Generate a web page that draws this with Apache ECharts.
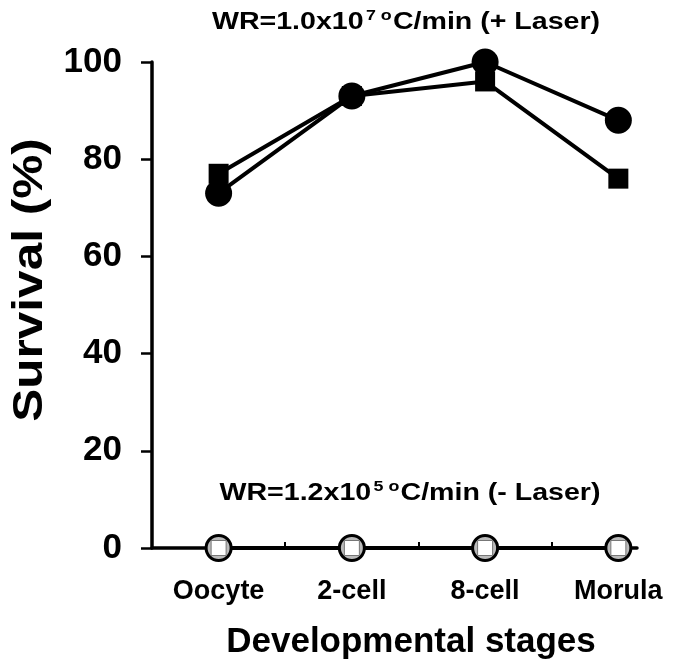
<!DOCTYPE html>
<html>
<head>
<meta charset="utf-8">
<script src="https://cdn.jsdelivr.net/npm/echarts@6/dist/echarts.min.js"></script>
<style>
  html, body { margin: 0; padding: 0; background: #fff; }
  #chart { width: 675px; height: 670px; }
</style>
</head>
<body>
<div id="chart"></div>
<script>
// 数据
const stages = ['Oocyte', '2-cell', '8-cell', 'Morula'];
const stagePos = [1, 2, 3, 4];
const laserCircle = [73, 93, 100, 88];
const laserSquare = [77, 93, 96, 76];
const noLaserCircle = [0, 0, 0, 0];
const noLaserSquare = [0, 0, 0, 0];

const FONT = 'Liberation Sans, Arial, sans-serif';

function pts(vals) {
    return vals.map((v, i) => [stagePos[i], v]);
}

const chart = echarts.init(document.getElementById('chart'));

// 上标文字样式
const richWR = {
    b: { fontFamily: FONT, fontWeight: 'bold', fontSize: 24, color: '#000' },
    s: { fontFamily: FONT, fontWeight: 'bold', fontSize: 15, color: '#000', verticalAlign: 'top', padding: [0, 1, 12, 2] }
};

chart.setOption({
    animation: false,
    backgroundColor: '#fff',
    grid: { left: 152, right: 38, top: 62, bottom: 122 },
    xAxis: {
        type: 'value',
        min: 0.5,
        max: 4.14,
        splitLine: { show: false },
        axisLine: { lineStyle: { color: '#000', width: 3.5 } },
        axisTick: {
            show: true,
            customValues: [1.5, 2.5, 3.5],
            inside: true,
            length: 6,
            lineStyle: { color: '#000', width: 2 }
        },
        axisLabel: {
            customValues: stagePos,
            formatter: v => stages[stagePos.indexOf(v)] || '',
            color: '#000',
            fontFamily: FONT,
            fontWeight: 'bold',
            fontSize: 27,
            margin: 30
        }
    },
    yAxis: {
        type: 'value',
        min: 0,
        max: 100,
        interval: 20,
        splitLine: { show: false },
        axisLine: { lineStyle: { color: '#000', width: 3.5 } },
        axisTick: { show: true, length: 11, lineStyle: { color: '#000', width: 2.5 } },
        axisLabel: {
            color: '#000',
            fontFamily: FONT,
            fontWeight: 'bold',
            fontSize: 35,
            margin: 30
        }
    },
    graphic: [
        {
            type: 'text',
            rotation: Math.PI / 2,
            x: 30, y: 280,
            scaleX: 1.18,
            style: {
                text: 'Survival (%)',
                fontFamily: FONT, fontWeight: 'bold', fontSize: 42,
                fill: '#000', align: 'center', verticalAlign: 'middle'
            }
        },
        {
            type: 'text',
            x: 411, y: 642,
            style: {
                text: 'Developmental stages',
                fontFamily: FONT, fontWeight: 'bold', fontSize: 35,
                fill: '#000', align: 'center', verticalAlign: 'middle'
            }
        },
        {
            type: 'text',
            x: 406, y: 22,
            scaleX: 1.19,
            style: {
                text: '{b|WR=1.0x10}{s|7 o}{b|C/min (+ Laser)}',
                align: 'center', verticalAlign: 'middle',
                rich: richWR
            }
        },
        {
            type: 'text',
            x: 410, y: 493,
            scaleX: 1.19,
            style: {
                text: '{b|WR=1.2x10}{s|5 o}{b|C/min (- Laser)}',
                align: 'center', verticalAlign: 'middle',
                rich: richWR
            }
        }
    ],
    series: [
        {
            name: '+Laser square',
            type: 'line',
            data: pts(laserSquare),
            clip: false,
            symbol: 'rect',
            symbolSize: 20,
            lineStyle: { color: '#000', width: 4 },
            itemStyle: { color: '#000' },
            z: 3
        },
        {
            name: '+Laser circle',
            type: 'line',
            data: pts(laserCircle),
            clip: false,
            symbol: 'circle',
            symbolSize: 27,
            lineStyle: { color: '#000', width: 4 },
            itemStyle: { color: '#000' },
            z: 4
        },
        {
            name: '-Laser circle',
            type: 'line',
            data: pts(noLaserCircle),
            clip: false,
            symbol: 'circle',
            symbolSize: 25,
            lineStyle: { color: '#000', width: 4 },
            itemStyle: { color: '#bbb', borderColor: '#000', borderWidth: 3 },
            z: 5
        },
        {
            name: '-Laser square',
            type: 'line',
            data: pts(noLaserSquare),
            clip: false,
            symbol: 'rect',
            symbolSize: 15,
            lineStyle: { width: 0 },
            itemStyle: { color: '#fff', borderColor: '#777', borderWidth: 1 },
            z: 6
        }
    ]
});
</script>
</body>
</html>
